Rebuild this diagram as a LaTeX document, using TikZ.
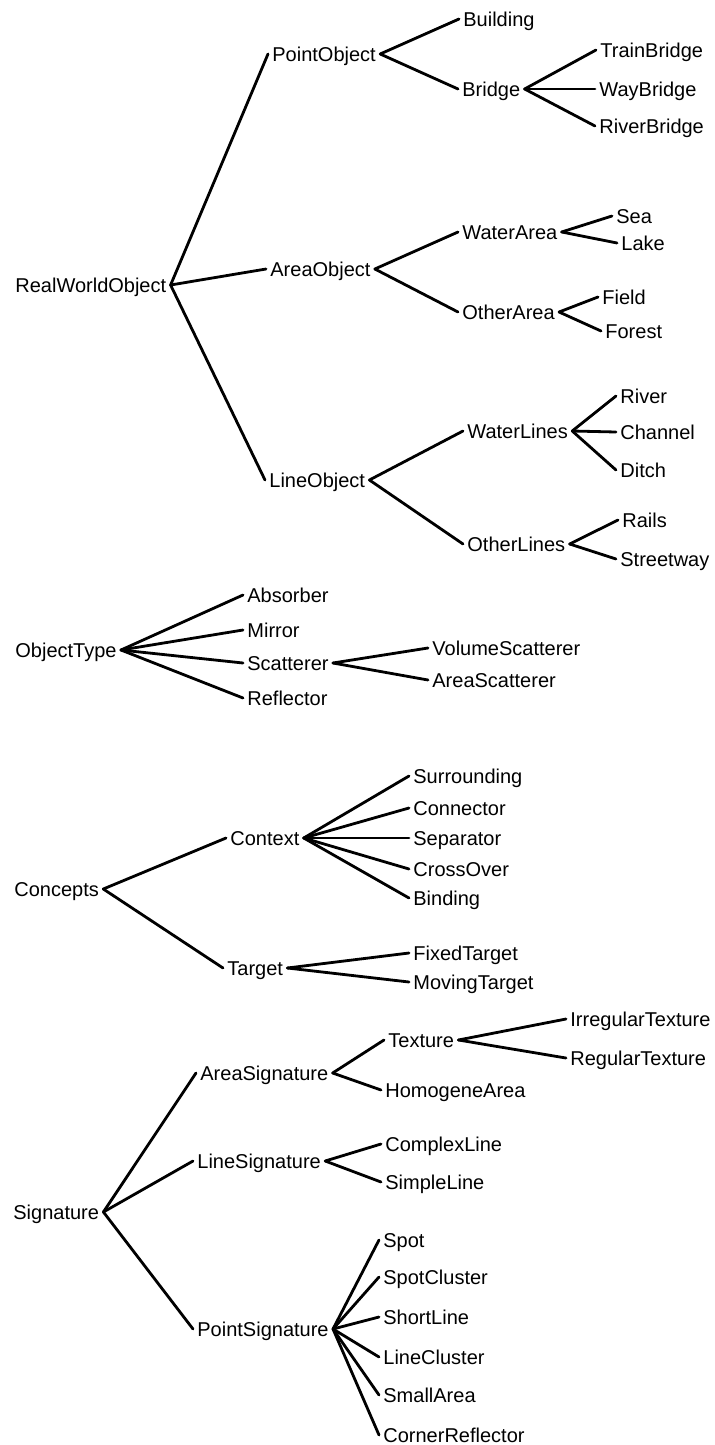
\documentclass[tikz,border=0pt]{standalone}
\usepackage{fontspec}
\setmainfont{Liberation Sans}
\begin{document}
\begin{tikzpicture}[x=0.5pt,y=-0.5pt,
  lbl/.style={anchor=west,inner xsep=2pt,inner ysep=0pt,text height=7.2pt,text depth=0pt,font=\fontsize{10}{12}\selectfont},
  edge/.style={line width=1.4pt,line cap=round}]
\useasboundingbox (0,0) rectangle (715,1445);
% ---- RealWorldObject tree
\node[lbl] (rwo) at (11,285) {RealWorldObject};
\node[lbl] (po) at (268,54) {PointObject};
\node[lbl] (ao) at (266,269) {AreaObject};
\node[lbl] (lo) at (265,480) {LineObject};
\node[lbl] (bui) at (459,19) {Building};
\node[lbl] (bri) at (458,89) {Bridge};
\node[lbl] (tb) at (596,50) {TrainBridge};
\node[lbl] (wb) at (595,89) {WayBridge};
\node[lbl] (rb) at (595,126) {RiverBridge};
\node[lbl] (wa) at (458,232) {WaterArea};
\node[lbl] (sea) at (612,216) {Sea};
\node[lbl] (lake) at (617,243) {Lake};
\node[lbl] (oa) at (458,312) {OtherArea};
\node[lbl] (field) at (598,297) {Field};
\node[lbl] (forest) at (601,331) {Forest};
\node[lbl] (wl) at (463,431) {WaterLines};
\node[lbl] (river) at (616,396) {River};
\node[lbl] (chan) at (616,432) {Channel};
\node[lbl] (ditch) at (616,470) {Ditch};
\node[lbl] (ol) at (463,544) {OtherLines};
\node[lbl] (rails) at (618,520) {Rails};
\node[lbl] (street) at (616,559) {Streetway};
\draw[edge] (rwo.east) -- (po.west);
\draw[edge] (rwo.east) -- (ao.west);
\draw[edge] (rwo.east) -- (lo.west);
\draw[edge] (po.east) -- (bui.west);
\draw[edge] (po.east) -- (bri.west);
\draw[edge] (bri.east) -- (tb.west);
\draw[edge] (bri.east) -- (wb.west);
\draw[edge] (bri.east) -- (rb.west);
\draw[edge] (ao.east) -- (wa.west);
\draw[edge] (ao.east) -- (oa.west);
\draw[edge] (wa.east) -- (sea.west);
\draw[edge] (wa.east) -- (lake.west);
\draw[edge] (oa.east) -- (field.west);
\draw[edge] (oa.east) -- (forest.west);
\draw[edge] (lo.east) -- (wl.west);
\draw[edge] (lo.east) -- (ol.west);
\draw[edge] (wl.east) -- (river.west);
\draw[edge] (wl.east) -- (chan.west);
\draw[edge] (wl.east) -- (ditch.west);
\draw[edge] (ol.east) -- (rails.west);
\draw[edge] (ol.east) -- (street.west);
% ---- ObjectType tree
\node[lbl] (ot) at (11,650) {ObjectType};
\node[lbl] (abs) at (243,595) {Absorber};
\node[lbl] (mir) at (243,630) {Mirror};
\node[lbl] (sca) at (243,663) {Scatterer};
\node[lbl] (ref) at (243,698) {Reflector};
\node[lbl] (vs) at (428,648) {VolumeScatterer};
\node[lbl] (as) at (428,680) {AreaScatterer};
\draw[edge] (ot.east) -- (abs.west);
\draw[edge] (ot.east) -- (mir.west);
\draw[edge] (ot.east) -- (sca.west);
\draw[edge] (ot.east) -- (ref.west);
\draw[edge] (sca.east) -- (vs.west);
\draw[edge] (sca.east) -- (as.west);
% ---- Concepts tree
\node[lbl] (con) at (10,889) {Concepts};
\node[lbl] (ctx) at (226,838) {Context};
\node[lbl] (tgt) at (223,968) {Target};
\node[lbl] (sur) at (409,776) {Surrounding};
\node[lbl] (cnr) at (409,808) {Connector};
\node[lbl] (sep) at (409,838) {Separator};
\node[lbl] (cro) at (409,869) {CrossOver};
\node[lbl] (bin) at (409,898) {Binding};
\node[lbl] (ft) at (409,953) {FixedTarget};
\node[lbl] (mt) at (409,982) {MovingTarget};
\draw[edge] (con.east) -- (ctx.west);
\draw[edge] (con.east) -- (tgt.west);
\draw[edge] (ctx.east) -- (sur.west);
\draw[edge] (ctx.east) -- (cnr.west);
\draw[edge] (ctx.east) -- (sep.west);
\draw[edge] (ctx.east) -- (cro.west);
\draw[edge] (ctx.east) -- (bin.west);
\draw[edge] (tgt.east) -- (ft.west);
\draw[edge] (tgt.east) -- (mt.west);
% ---- Signature tree
\node[lbl] (sig) at (9,1212) {Signature};
\node[lbl] (asig) at (196,1073) {AreaSignature};
\node[lbl] (lsig) at (193,1161) {LineSignature};
\node[lbl] (psig) at (193,1329) {PointSignature};
\node[lbl] (tex) at (384,1040) {Texture};
\node[lbl] (hom) at (381,1090) {HomogeneArea};
\node[lbl] (irr) at (566,1019) {IrregularTexture};
\node[lbl] (reg) at (566,1058) {RegularTexture};
\node[lbl] (cpl) at (381,1144) {ComplexLine};
\node[lbl] (spl) at (381,1182) {SimpleLine};
\node[lbl] (spot) at (379,1240) {Spot};
\node[lbl] (spc) at (379,1277) {SpotCluster};
\node[lbl] (shl) at (379,1317) {ShortLine};
\node[lbl] (lcl) at (379,1357) {LineCluster};
\node[lbl] (sma) at (379,1395) {SmallArea};
\node[lbl] (cre) at (379,1435) {CornerReflector};
\draw[edge] (sig.east) -- (asig.west);
\draw[edge] (sig.east) -- (lsig.west);
\draw[edge] (sig.east) -- (psig.west);
\draw[edge] (asig.east) -- (tex.west);
\draw[edge] (asig.east) -- (hom.west);
\draw[edge] (tex.east) -- (irr.west);
\draw[edge] (tex.east) -- (reg.west);
\draw[edge] (lsig.east) -- (cpl.west);
\draw[edge] (lsig.east) -- (spl.west);
\draw[edge] (psig.east) -- (spot.west);
\draw[edge] (psig.east) -- (spc.west);
\draw[edge] (psig.east) -- (shl.west);
\draw[edge] (psig.east) -- (lcl.west);
\draw[edge] (psig.east) -- (sma.west);
\draw[edge] (psig.east) -- (cre.west);
\end{tikzpicture}
\end{document}
